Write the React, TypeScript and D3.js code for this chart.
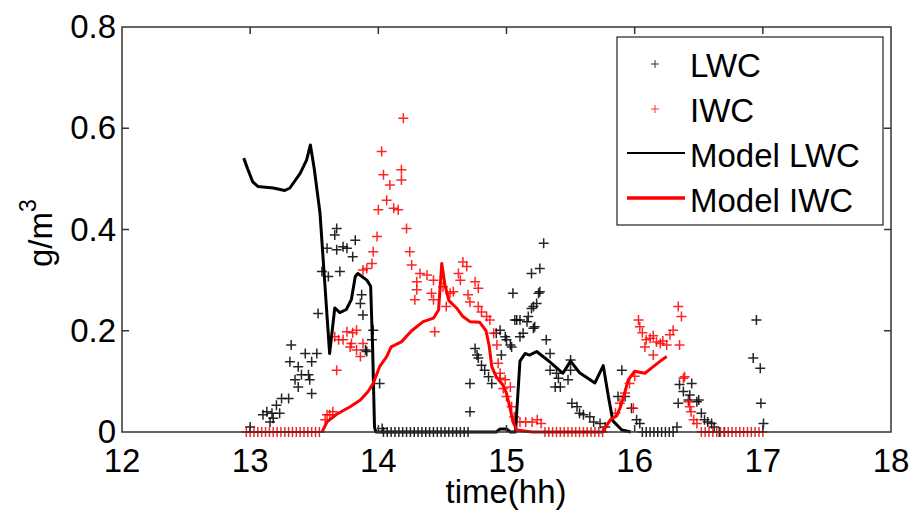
import React, { useEffect, useRef } from "react";
import * as d3 from "d3";

// measured liquid water content, [time hh, g/m3]
const lwcObs: [number, number][] = [
  [13.0, 0.01], [13.1, 0.034], [13.13, 0.04], [13.155, 0.02], [13.17, 0.037], [13.18, 0.027],
  [13.205, 0.053], [13.23, 0.037], [13.245, 0.066], [13.3, 0.066], [13.31, 0.139], [13.32, 0.172],
  [13.35, 0.103], [13.375, 0.129], [13.375, 0.089], [13.4, 0.113], [13.43, 0.155], [13.455, 0.113],
  [13.465, 0.103], [13.48, 0.139], [13.48, 0.076], [13.52, 0.155], [13.53, 0.234], [13.56, 0.317],
  [13.6, 0.363], [13.61, 0.307], [13.66, 0.389], [13.675, 0.402], [13.675, 0.36], [13.7, 0.317],
  [13.725, 0.366], [13.755, 0.363], [13.8, 0.346], [13.82, 0.379], [13.86, 0.254], [13.87, 0.271],
  [13.88, 0.231], [13.9, 0.162], [13.91, 0.159], [13.95, 0.182], [13.96, 0.201], [14.01, 0.096],
  [14.03, 0.007],
  [14.04, 0], [14.07, 0], [14.1, 0], [14.13, 0], [14.16, 0], [14.19, 0], [14.22, 0], [14.25, 0],
  [14.28, 0], [14.31, 0], [14.34, 0], [14.37, 0], [14.4, 0], [14.43, 0], [14.46, 0], [14.49, 0],
  [14.52, 0], [14.55, 0], [14.58, 0], [14.61, 0], [14.64, 0], [14.67, 0], [14.7, 0],
  [14.715, 0.04], [14.715, 0.096], [14.755, 0.165], [14.77, 0.152], [14.78, 0.146], [14.805, 0.132],
  [14.83, 0.122], [14.86, 0.109], [14.885, 0.096], [14.92, 0.195], [14.95, 0.201], [14.96, 0.152],
  [14.99, 0.188], [15.0, 0.182], [15.03, 0.172], [15.04, 0.168], [15.05, 0.274], [15.065, 0.221],
  [15.08, 0.221], [15.105, 0.188], [15.105, 0.221], [15.13, 0.195], [15.16, 0.218], [15.17, 0.228],
  [15.195, 0.313], [15.195, 0.244], [15.21, 0.248], [15.21, 0.205], [15.22, 0.208], [15.235, 0.254],
  [15.25, 0.274], [15.26, 0.323], [15.26, 0.277], [15.29, 0.373], [15.31, 0.182], [15.34, 0.155],
  [15.34, 0.122], [15.38, 0.089], [15.39, 0.116], [15.405, 0.106], [15.42, 0.089], [15.48, 0.103],
  [15.5, 0.142], [15.5, 0.122], [15.51, 0.057], [15.55, 0.05], [15.57, 0.037], [15.6, 0.034],
  [15.65, 0.03], [15.68, 0.02], [15.73, 0.017], [15.77, 0.01], [15.87, 0.07], [15.9, 0.122],
  [15.925, 0.07], [15.975, 0.047], [16.015, 0.024], [16.04, 0.017],
  [16.06, 0], [16.09, 0], [16.12, 0], [16.15, 0], [16.18, 0], [16.21, 0], [16.24, 0], [16.27, 0],
  [16.3, 0], [16.33, 0.01],
  [16.34, 0.057], [16.35, 0.094], [16.38, 0.08], [16.42, 0.063], [16.43, 0.073], [16.445, 0.096],
  [16.485, 0.06], [16.5, 0.063], [16.52, 0.037], [16.545, 0.024], [16.57, 0.02], [16.6, 0.017],
  [16.62, 0.01], [16.66, 0], [16.7, 0],
  [16.925, 0.146], [16.95, 0.221], [16.98, 0.126], [16.985, 0.057], [17.005, 0.017],
];

// measured ice water content
const iwcObs: [number, number][] = [
  [12.97, 0], [13.0, 0], [13.03, 0], [13.06, 0], [13.09, 0], [13.12, 0], [13.15, 0], [13.18, 0],
  [13.21, 0], [13.24, 0], [13.27, 0], [13.3, 0], [13.33, 0], [13.36, 0], [13.39, 0], [13.42, 0],
  [13.45, 0], [13.48, 0], [13.51, 0], [13.54, 0],
  [13.585, 0.024], [13.6, 0.034], [13.62, 0.034], [13.645, 0.04], [13.66, 0.188], [13.675, 0.122],
  [13.69, 0.182], [13.725, 0.182], [13.755, 0.198], [13.78, 0.168], [13.79, 0.175], [13.8, 0.196],
  [13.83, 0.201], [13.83, 0.162], [13.86, 0.149], [13.88, 0.175], [13.88, 0.32], [13.91, 0.323],
  [13.95, 0.333], [13.96, 0.356], [13.99, 0.386], [14.0, 0.439], [14.026, 0.554], [14.04, 0.508],
  [14.065, 0.458], [14.09, 0.488], [14.12, 0.442], [14.155, 0.439], [14.18, 0.518], [14.18, 0.498],
  [14.195, 0.62], [14.22, 0.402], [14.245, 0.356], [14.26, 0.33], [14.285, 0.261], [14.3, 0.297],
  [14.3, 0.281], [14.325, 0.313], [14.38, 0.31], [14.415, 0.274], [14.43, 0.3], [14.43, 0.261],
  [14.44, 0.198], [14.505, 0.287], [14.53, 0.248], [14.56, 0.274], [14.585, 0.277], [14.625, 0.313],
  [14.64, 0.3], [14.66, 0.336], [14.69, 0.327], [14.7, 0.271], [14.715, 0.257], [14.755, 0.297],
  [14.78, 0.284], [14.78, 0.248], [14.805, 0.237], [14.845, 0.228], [14.87, 0.221], [14.9, 0.195],
  [14.925, 0.172], [14.935, 0.136], [14.95, 0.106], [14.95, 0.116], [14.975, 0.086], [14.99, 0.103],
  [15.0, 0.07], [15.03, 0.089], [15.04, 0.05], [15.06, 0.03], [15.105, 0.02], [15.15, 0.02],
  [15.2, 0.02], [15.24, 0.024], [15.27, 0.017],
  [15.3, 0], [15.33, 0], [15.36, 0], [15.39, 0], [15.42, 0], [15.45, 0], [15.48, 0], [15.51, 0],
  [15.54, 0], [15.57, 0], [15.6, 0], [15.63, 0], [15.66, 0], [15.69, 0], [15.72, 0], [15.75, 0],
  [15.85, 0.037], [15.885, 0.057], [15.925, 0.077], [15.96, 0.096], [15.99, 0.047], [16.0, 0.11],
  [16.03, 0.221], [16.04, 0.208], [16.06, 0.196], [16.08, 0.168], [16.09, 0.182], [16.12, 0.185],
  [16.145, 0.152], [16.145, 0.19], [16.17, 0.178], [16.2, 0.175], [16.22, 0.18], [16.25, 0.172],
  [16.275, 0.192], [16.3, 0.201], [16.34, 0.248], [16.35, 0.172], [16.365, 0.228],
  [16.38, 0.106], [16.39, 0.109], [16.42, 0.06], [16.43, 0.05], [16.44, 0.04], [16.46, 0.024],
  [16.485, 0.017],
  [16.52, 0], [16.55, 0], [16.58, 0], [16.61, 0], [16.64, 0], [16.67, 0], [16.7, 0], [16.73, 0],
  [16.76, 0], [16.79, 0], [16.82, 0], [16.85, 0], [16.88, 0], [16.91, 0], [16.94, 0], [16.97, 0],
  [17.0, 0],
];

// model output
const lwcModel: [number, number][] = [
  [12.95, 0.541], [12.98, 0.52], [13.02, 0.494], [13.06, 0.485], [13.18, 0.482], [13.27, 0.477],
  [13.31, 0.482], [13.39, 0.511], [13.44, 0.537], [13.47, 0.567], [13.5, 0.52], [13.545, 0.432],
  [13.6, 0.228], [13.62, 0.155], [13.66, 0.245], [13.7, 0.236], [13.75, 0.242], [13.79, 0.262],
  [13.82, 0.307], [13.84, 0.313], [13.91, 0.3], [13.94, 0.288], [13.955, 0.17], [13.97, 0.01],
  [13.98, 0], [14.5, 0], [14.92, 0], [14.95, 0.006], [15.0, 0.006], [15.03, 0], [15.07, 0],
  [15.09, 0.08], [15.105, 0.14], [15.145, 0.155], [15.18, 0.152], [15.235, 0.159], [15.27, 0.152],
  [15.34, 0.138], [15.44, 0.116], [15.5, 0.14], [15.57, 0.117], [15.69, 0.097], [15.755, 0.131],
  [15.795, 0.07], [15.83, 0.022], [15.9, 0.004], [15.97, 0],
];

const iwcModel: [number, number][] = [
  [13.56, 0], [13.6, 0.02], [13.675, 0.035], [13.78, 0.05], [13.86, 0.063], [13.92, 0.08],
  [13.96, 0.096], [14.01, 0.129], [14.065, 0.149], [14.1, 0.168], [14.18, 0.178], [14.26, 0.2],
  [14.35, 0.218], [14.43, 0.225], [14.47, 0.241], [14.495, 0.333], [14.52, 0.29], [14.55, 0.26],
  [14.585, 0.251], [14.61, 0.245], [14.66, 0.228], [14.715, 0.218], [14.79, 0.217], [14.84, 0.2],
  [14.865, 0.17], [14.885, 0.129], [14.92, 0.109], [14.975, 0.092], [15.0, 0.076], [15.03, 0.045],
  [15.05, 0.02], [15.08, 0.004], [15.2, 0], [15.5, 0], [15.75, 0], [15.78, 0.012], [15.81, 0.024],
  [15.86, 0.032], [15.89, 0.05], [15.92, 0.075], [15.95, 0.103], [16.0, 0.12], [16.08, 0.116],
  [16.145, 0.129], [16.2, 0.14], [16.25, 0.149],
];

const xTicks = [12, 13, 14, 15, 16, 17, 18];
const yTicks = [0, 0.2, 0.4, 0.6, 0.8];

const legendItems = [
  { label: "LWC", kind: "marker", color: "#000" },
  { label: "IWC", kind: "marker", color: "#ff0000" },
  { label: "Model LWC", kind: "line", color: "#000" },
  { label: "Model IWC", kind: "line", color: "#ff0000" },
];

const W = 914;
const H = 516;
const font = "'Liberation Sans', Arial, sans-serif";

export default function App() {
  const ref = useRef<SVGSVGElement>(null);

  useEffect(() => {
    const svg = d3.select(ref.current);
    svg.selectAll("*").remove();

    const x = d3.scaleLinear().domain([12, 18]).range([122, 891]);
    const y = d3.scaleLinear().domain([0, 0.8]).range([432, 27]);
    const [x0, x1] = x.range();
    const [y0, y1] = y.range();

    svg.append("rect").attr("width", W).attr("height", H).attr("fill", "#fff");

    const plus = "M-5,0H5M0,-5V5";
    const small = "M-4,0H4M0,-4V4";

    // scatter of measurements
    svg
      .append("g")
      .selectAll("path")
      .data(lwcObs)
      .enter()
      .append("path")
      .attr("d", plus)
      .attr("transform", (d) => `translate(${x(d[0])},${y(d[1])})`)
      .attr("stroke", "#000")
      .attr("stroke-width", 1.5)
      .attr("opacity", 0.85);

    svg
      .append("g")
      .selectAll("path")
      .data(iwcObs)
      .enter()
      .append("path")
      .attr("d", plus)
      .attr("transform", (d) => `translate(${x(d[0])},${y(d[1])})`)
      .attr("stroke", "#ff0000")
      .attr("stroke-width", 1.5)
      .attr("opacity", 0.85);

    const line = d3
      .line<[number, number]>()
      .x((d) => x(d[0]))
      .y((d) => y(d[1]));

    svg
      .append("path")
      .datum(lwcModel)
      .attr("d", line)
      .attr("fill", "none")
      .attr("stroke", "#000")
      .attr("stroke-width", 3)
      .attr("stroke-linejoin", "round");

    svg
      .append("path")
      .datum(iwcModel)
      .attr("d", line)
      .attr("fill", "none")
      .attr("stroke", "#ff0000")
      .attr("stroke-width", 3)
      .attr("stroke-linejoin", "round");

    // axes box + inward ticks
    const ax = svg.append("g").attr("stroke", "#333").attr("stroke-width", 1.5);
    ax.append("rect")
      .attr("x", x0)
      .attr("y", y1)
      .attr("width", x1 - x0)
      .attr("height", y0 - y1)
      .attr("fill", "none");
    xTicks.slice(1, -1).forEach((t) => {
      ax.append("line").attr("x1", x(t)).attr("x2", x(t)).attr("y1", y0).attr("y2", y0 - 7);
      ax.append("line").attr("x1", x(t)).attr("x2", x(t)).attr("y1", y1).attr("y2", y1 + 7);
    });
    yTicks.slice(1, -1).forEach((t) => {
      ax.append("line").attr("x1", x0).attr("x2", x0 + 7).attr("y1", y(t)).attr("y2", y(t));
      ax.append("line").attr("x1", x1).attr("x2", x1 - 7).attr("y1", y(t)).attr("y2", y(t));
    });

    const txt = svg.append("g").attr("font-family", font).attr("font-size", 33).attr("fill", "#000");
    xTicks.forEach((t) => {
      txt.append("text").attr("x", x(t)).attr("y", 472).attr("text-anchor", "middle").text(t);
    });
    yTicks.forEach((t) => {
      txt
        .append("text")
        .attr("x", 116)
        .attr("y", y(t) + 11)
        .attr("text-anchor", "end")
        .text(t === 0 ? "0" : d3.format(".1f")(t));
    });
    txt.append("text").attr("x", 506).attr("y", 503).attr("text-anchor", "middle").text("time(hh)");

    const yl = txt.append("text").attr("transform", "translate(52,267) rotate(-90)");
    yl.append("tspan").text("g/m");
    yl.append("tspan").attr("font-size", 23).attr("dy", -16).text("3");

    // legend
    const lg = svg.append("g");
    lg.append("rect")
      .attr("x", 617)
      .attr("y", 37)
      .attr("width", 266)
      .attr("height", 188)
      .attr("fill", "#fff")
      .attr("stroke", "#222")
      .attr("stroke-width", 1.2);
    legendItems.forEach((it, i) => {
      const cy = 65 + i * 45;
      if (it.kind === "marker") {
        lg.append("path")
          .attr("d", small)
          .attr("transform", `translate(655,${cy - 1})`)
          .attr("stroke", it.color)
          .attr("stroke-width", 1)
          .attr("opacity", 0.8);
      } else {
        lg.append("line")
          .attr("x1", 627)
          .attr("x2", 685)
          .attr("y1", cy - 2)
          .attr("y2", cy - 2)
          .attr("stroke", it.color)
          .attr("stroke-width", it.color === "#000" ? 2 : 3.5);
      }
      lg.append("text")
        .attr("x", 690)
        .attr("y", cy + 12)
        .attr("font-family", font)
        .attr("font-size", 33)
        .text(it.label);
    });
  }, []);

  return (
    <svg
      ref={ref}
      width={W}
      height={H}
      style={{ position: "absolute", left: 0, top: 0, display: "block" }}
    />
  );
}
